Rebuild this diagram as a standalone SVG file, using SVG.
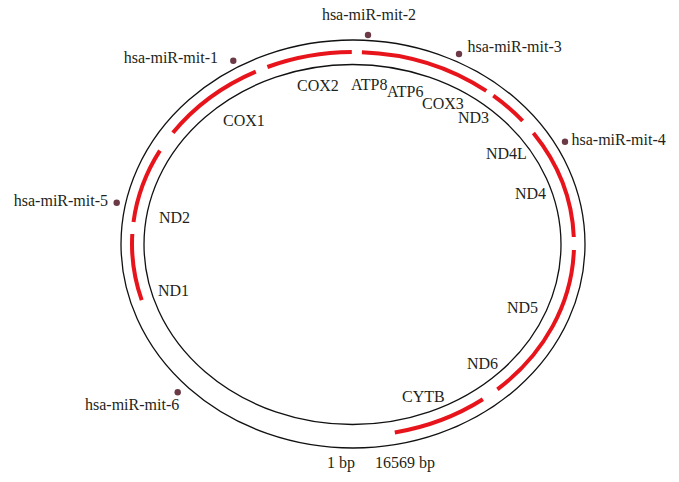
<svg xmlns="http://www.w3.org/2000/svg" width="679" height="482" viewBox="0 0 679 482">
<style>
text{font-family:"Liberation Serif","Times New Roman",serif;font-size:16px;fill:#231f20}
.ring{fill:none;stroke:#111;stroke-width:1.3}
.arc{fill:none;stroke:#e8141c;stroke-width:4;stroke-linecap:butt}
.dot{fill:#6b3a46}
.end{text-anchor:end}
.mid{text-anchor:middle}
</style>
<rect width="679" height="482" fill="#fff"/>
<g id="genome">
<ellipse class="ring" cx="353" cy="244" rx="232" ry="204"/>
<ellipse class="ring" cx="352.5" cy="244.5" rx="208.5" ry="180"/>
</g>
<g id="connectors">
<path class="arc" d="M482.9,399.3 A221,192 0 0 1 394.8,432.5"/>
<path class="arc" d="M573.9,250 A221,192 0 0 1 497.4,389.3"/>
<path class="arc" d="M533.4,133 A221,192 0 0 1 573.8,237"/>
<path class="arc" d="M493.3,95.6 A221,192 0 0 1 522.6,120.9"/>
<path class="arc" d="M361.9,52.2 A221,192 0 0 1 486.3,90.9"/>
<path class="arc" d="M267.4,67 A221,192 0 0 1 351.8,52"/>
<path class="arc" d="M172.9,132.8 A221,192 0 0 1 255.8,71.6"/>
<path class="arc" d="M133.5,221.9 A221,192 0 0 1 159.9,150.6"/>
<path class="arc" d="M141.7,300.1 A221,192 0 0 1 132.3,234"/>
</g>
<g id="mit-1"><circle class="dot" cx="233.3" cy="60.7" r="3.2"/><text class="end" x="218" y="63">hsa-miR-mit-1</text></g>
<g id="mit-2"><circle class="dot" cx="368" cy="35" r="3.2"/><text class="mid" x="369" y="20">hsa-miR-mit-2</text></g>
<g id="mit-3"><circle class="dot" cx="459" cy="54" r="3.2"/><text x="467.5" y="52">hsa-miR-mit-3</text></g>
<g id="mit-4"><circle class="dot" cx="565" cy="141.7" r="3.2"/><text x="571.5" y="145">hsa-miR-mit-4</text></g>
<g id="mit-5"><circle class="dot" cx="116.7" cy="202.7" r="3.2"/><text class="end" x="108" y="206">hsa-miR-mit-5</text></g>
<g id="mit-6"><circle class="dot" cx="177.7" cy="392.3" r="3.2"/><text x="85" y="410">hsa-miR-mit-6</text></g>
<g id="genes">
<text id="COX1" x="223" y="126">COX1</text>
<text id="COX2" x="297" y="91">COX2</text>
<text id="ATP8" x="351" y="90">ATP8</text>
<text id="ATP6" x="387" y="97">ATP6</text>
<text id="COX3" x="422" y="109">COX3</text>
<text id="ND3" x="458" y="123">ND3</text>
<text id="ND4L" x="486" y="159">ND4L</text>
<text id="ND4" x="515" y="199">ND4</text>
<text id="ND5" x="507" y="313">ND5</text>
<text id="ND6" x="467" y="369">ND6</text>
<text id="CYTB" x="402" y="402">CYTB</text>
<text id="ND2" x="159" y="223">ND2</text>
<text id="ND1" x="158" y="296">ND1</text>
</g>
<g id="coords">
<text x="327" y="468">1 bp</text>
<text x="375" y="468">16569 bp</text>
</g>
</svg>
